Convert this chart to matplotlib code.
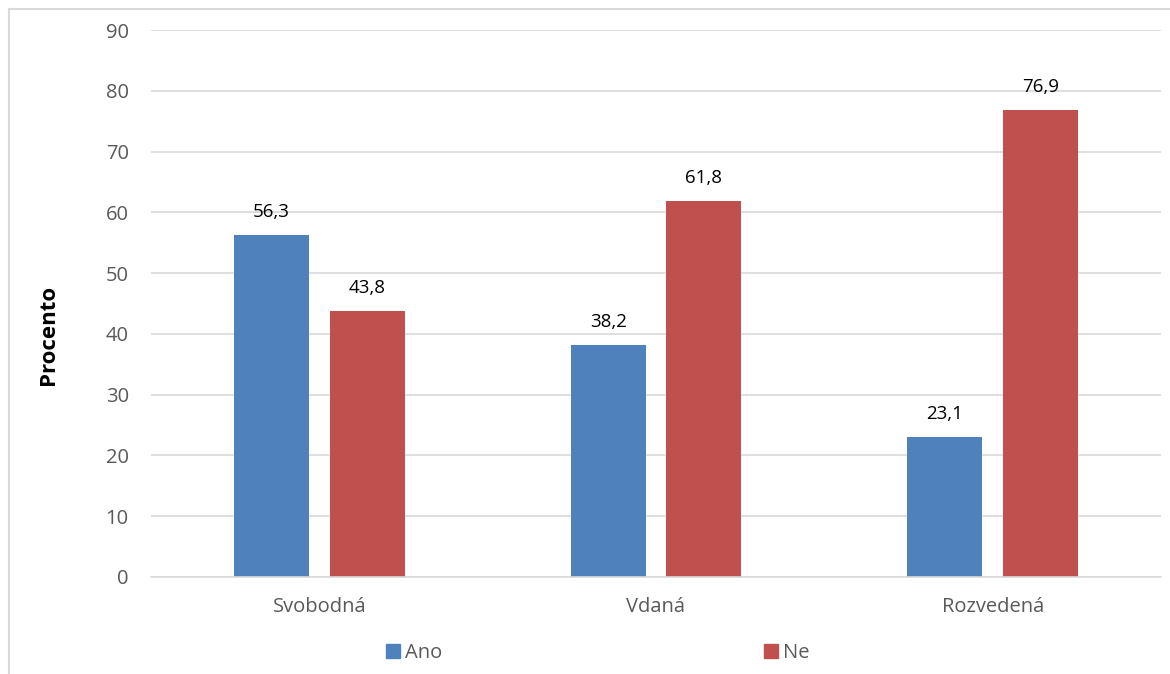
import matplotlib
matplotlib.use("Agg")
import matplotlib.pyplot as plt
from matplotlib.patches import Rectangle
from matplotlib.lines import Line2D
import numpy as np

categories = ["Svobodná", "Vdaná", "Rozvedená"]
ano = [56.3, 38.2, 23.1]
ne = [43.8, 61.8, 76.9]
series_names = ["Ano", "Ne"]
yticks = [0, 10, 20, 30, 40, 50, 60, 70, 80, 90]

blue = "#4F81BD"
red = "#C0504D"
grid = "#D9D9D9"
txt = "#595959"

plt.rcParams['font.family'] = ['Open Sans', 'DejaVu Sans']

W, H = 1170, 674
fig = plt.figure(figsize=(W / 100, H / 100), dpi=100)
ax = fig.add_axes([151 / W, 1 - 577 / H, (1161 - 151) / W, (577 - 30) / H])

x = np.arange(len(categories))
bw = 0.223
off = 0.142
b1 = ax.bar(x - off, ano, bw, color=blue, zorder=3)
b2 = ax.bar(x + off, ne, bw, color=red, zorder=3)

for bars, vals in ((b1, ano), (b2, ne)):
    for r, v in zip(bars, vals):
        ax.annotate(f"{v:.1f}".replace(".", ","), (r.get_x() + r.get_width() / 2, v),
                    xytext=(0, 13), textcoords="offset points", ha="center", va="baseline",
                    fontsize=13.5, color="black")

ax.set_xlim(-0.5, 2.5)
ax.set_ylim(0, 90)
ax.set_yticks(yticks)
ax.set_yticklabels([str(t) for t in yticks], fontsize=14.5, color=txt)
ax.set_xticks(x)
ax.set_xticklabels(categories, fontsize=14.5, color=txt)
ax.tick_params(axis="both", length=0)
ax.tick_params(axis="y", pad=16)
ax.tick_params(axis="x", pad=14.5)
ax.yaxis.grid(True, color=grid, linewidth=1.2, zorder=0)
for s in ["top", "right", "left"]:
    ax.spines[s].set_visible(False)
ax.spines["bottom"].set_color(grid)
ax.spines["bottom"].set_linewidth(1.2)
ax.spines["bottom"].set_zorder(4)

fig.text(48 / W, 1 - 335 / H, "Procento", rotation=90, ha="center", va="center",
         fontsize=16, fontweight="bold", color="black")

# chart area border (left and top visible)
fig.add_artist(Line2D([9 / W, 9 / W], [0, 1 - 9 / H], transform=fig.transFigure, color=grid, linewidth=1.5))
fig.add_artist(Line2D([9 / W, 1], [1 - 9 / H, 1 - 9 / H], transform=fig.transFigure, color=grid, linewidth=1.5))

handles = [Rectangle((0, 0), 1, 1, color=blue), Rectangle((0, 0), 1, 1, color=red)]
fig.legend(handles, series_names, loc="center", bbox_to_anchor=(598 / W, 1 - 653 / H),
           ncol=2, frameon=False, fontsize=14.5, handlelength=0.68, handleheight=0.68,
           handletextpad=0.25, columnspacing=16.0, labelcolor=txt)

fig.savefig("out.png", dpi=100)
